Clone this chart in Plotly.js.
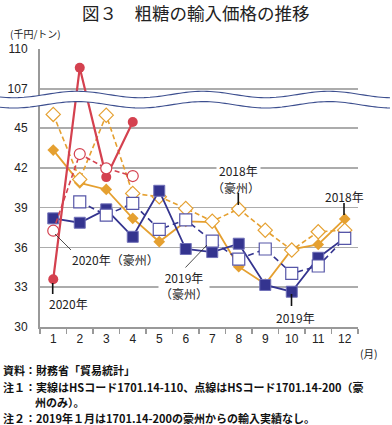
<!DOCTYPE html>
<html><head><meta charset="utf-8">
<script src="https://cdn.plot.ly/plotly-3.0.1.min.js"></script>
<style>html,body{margin:0;padding:0;background:#fff;}#c{width:392px;height:425px;}</style>
</head><body><div id="c"></div>
<script>
// ---- data (千円/トン) ----
const months = ['1','2','3','4','5','6','7','8','9','10','11','12'];
const y2020   = [33.6, 108.6, 41.3, 45.45, null, null, null, null, null, null, null, null];
const y2020au = [37.26, 43.04, 41.96, 41.38, null, null, null, null, null, null, null, null];
const y2019   = [38.19, 37.86, 38.87, 36.8, 40.27, 35.88, 35.65, 36.28, 33.17, 32.66, 35.22, 36.72];
const y2019au = [null, 39.44, 38.44, 39.32, 37.36, 38.08, 36.48, 35.11, 35.88, 34.04, 34.6, 36.68];
const y2018   = [43.34, 40.87, 40.37, 38.19, 36.43, 37.96, 37.9, 34.55, 33.24, 35.85, 36.22, 38.15];
const y2018au = [46.03, 41.13, 45.97, 40.07, 39.82, 38.94, 37.98, 38.9, 37.3, 35.8, 37.18, 37.3];
const lowTicks = [30, 33, 36, 39, 42, 45];
const highTicks = [107, 110];

// broken axis: values above the break are shifted down onto the display scale
const BREAK_FROM = 107, BREAK_TO = 47.94;
const brk = v => (v == null ? null : (v > 100 ? v - BREAK_FROM + BREAK_TO : v));

const RED = '#d4414f', BLUE = '#34348f', BLUE2 = '#5656a8', ORANGE = '#e5a030';
const L = 40, R = 358, T = 49, B = 327;
const X = p => (p - L) / (R - L);
const Y = p => (B - p) / (B - T);

const traces = [
  {x: months, y: y2018, name: '2018年', mode: 'lines+markers',
   line: {color: ORANGE, width: 1.8}, marker: {symbol: 'diamond', size: 9, color: ORANGE}},
  {x: months, y: y2018au, name: '2018年（豪州）', mode: 'lines+markers',
   line: {color: ORANGE, width: 1.6, dash: '5px,3px'},
   marker: {symbol: 'diamond', size: 11, color: '#fff', line: {color: ORANGE, width: 1.2}}},
  {x: months, y: y2019, name: '2019年', mode: 'lines+markers',
   line: {color: BLUE, width: 1.8}, marker: {symbol: 'square', size: 11, color: BLUE, line: {color: '#7070b8', width: 1}}},
  {x: months, y: y2019au, name: '2019年（豪州）', mode: 'lines+markers',
   line: {color: BLUE, width: 1.6, dash: '6px,4px'},
   marker: {symbol: 'square', size: 12, color: '#fff', line: {color: BLUE2, width: 1.2}}},
  {x: months, y: y2020.map(brk), name: '2020年', mode: 'lines+markers', cliponaxis: false,
   line: {color: RED, width: 2.2}, marker: {symbol: 'circle', size: 10, color: RED}},
  {x: months, y: y2020au, name: '2020年（豪州）', mode: 'lines+markers',
   line: {color: RED, width: 1.6, dash: '5px,3px'},
   marker: {symbol: 'circle', size: 11, color: '#fff', line: {color: RED, width: 1.2}}}
];

// wave break shapes
function wavePts(c) {
  const pts = [];
  for (let x = 0; x <= 392; x += 3) pts.push([x, c - 3.2 * Math.cos(2 * Math.PI * (x - 77) / 126)]);
  return pts;
}
const up = wavePts(94.5), lo = wavePts(104.8);
const toPath = pts => pts.map((p, i) => (i ? 'L' : 'M') + X(p[0]).toFixed(4) + ',' + Y(p[1]).toFixed(4)).join(' ');
const fillPath = toPath(up) + ' ' + lo.slice().reverse().map(p => 'L' + X(p[0]).toFixed(4) + ',' + Y(p[1]).toFixed(4)).join(' ') + ' Z';

const shapes = [
  {type: 'path', xref: 'paper', yref: 'paper', path: fillPath, fillcolor: '#fff', line: {width: 0}, layer: 'above'},
  {type: 'path', xref: 'paper', yref: 'paper', path: toPath(up), line: {color: '#3d4f8f', width: 1.1}, layer: 'above'},
  {type: 'path', xref: 'paper', yref: 'paper', path: toPath(lo), line: {color: '#3d4f8f', width: 1.1}, layer: 'above'}
];
function lead(x0, y0, x1, y1) {
  shapes.push({type: 'line', xref: 'paper', yref: 'paper', x0: X(x0), y0: Y(y0), x1: X(x1), y1: Y(y1),
               line: {color: '#111', width: 1.6}, layer: 'above'});
}
lead(238.3, 193, 238.3, 205);
lead(344, 203, 344, 215);
lead(291.5, 294, 291.5, 306);
lead(52.7, 283, 52.7, 294);
const thin = (x0, y0, x1, y1) => shapes.push({type: 'line', xref: 'paper', yref: 'paper', x0: X(x0), y0: Y(y0), x1: X(x1), y1: Y(y1), line: {color: '#222', width: 0.8}, layer: 'above'});
thin(55, 234, 71, 250);
thin(185, 268, 207, 245);

const JP = '"Noto Sans CJK JP", "Noto Sans", sans-serif';
const ann = [];
function txt(t, x, y, size, opts) {
  ann.push(Object.assign({text: t, xref: 'paper', yref: 'paper', x: X(x), y: Y(y), showarrow: false,
    xanchor: 'center', yanchor: 'middle', font: {family: JP, size: size, color: '#222'}}, opts || {}));
}
txt('図３　粗糖の輸入価格の推移', 196, 13, 17.5, {font: {family: JP, size: 17.5, color: '#222'}});
txt('(千円/トン)', 8, 34, 10, {xanchor: 'left'});
txt('(月)', 358, 353, 10.5, {xanchor: 'left'});
txt('2018年', 238, 170, 12, {bgcolor: '#fff', borderpad: 2});
txt('（豪州）', 236, 187, 12);
txt('2018年', 344, 196, 12);
txt('2020年（豪州）', 70, 259, 12, {xanchor: 'left'});
txt('2020年', 68, 303, 12);
txt('2019年<br>（豪州）', 184, 285, 12, {bgcolor: '#fff', borderpad: 1});
txt('2019年', 295, 317, 12);
const FB = {family: JP, size: 11, color: '#111', weight: 'bold'};
txt('資料：財務省「貿易統計」', 1, 370, 11, {xanchor: 'left', font: FB});
txt('注１：実線はHSコード1701.14-110、点線はHSコード1701.14-200（豪', 1, 387, 11, {xanchor: 'left', font: FB});
txt('州のみ）。', 33, 402.5, 11, {xanchor: 'left', font: FB});
txt('注２：2019年１月は1701.14-200の豪州からの輸入実績なし。', 1, 417.5, 11, {xanchor: 'left', font: FB});

const tickv = lowTicks.concat(highTicks.map(brk));
const tickt = lowTicks.concat(highTicks).map(String);

const layout = {
  width: 392, height: 425, margin: {l: L, r: 392 - R, t: T, b: 425 - B},
  paper_bgcolor: '#fff', plot_bgcolor: '#fff', showlegend: false,
  xaxis: {type: 'category', range: [-0.5, 11.5], tickson: 'boundaries', ticks: 'outside', ticklen: 5,
          tickcolor: '#999', tickwidth: 1.5, showgrid: false, showline: true, linecolor: '#999', linewidth: 2,
          tickfont: {family: '"Liberation Sans", Arial, sans-serif', size: 12, color: '#222'}, fixedrange: true},
  yaxis: {range: [30, 50.96], tickmode: 'array', tickvals: tickv, ticktext: tickt, ticks: '',
          showgrid: true, gridcolor: '#acacac', gridwidth: 1.5, showline: true, linecolor: '#999', linewidth: 2,
          zeroline: false, ticklabelstandoff: 8,
          tickfont: {family: '"Liberation Sans", Arial, sans-serif', size: 12, color: '#222'}, fixedrange: true},
  shapes: shapes, annotations: ann
};
Plotly.newPlot('c', traces, layout, {staticPlot: true, displayModeBar: false});
</script></body></html>
